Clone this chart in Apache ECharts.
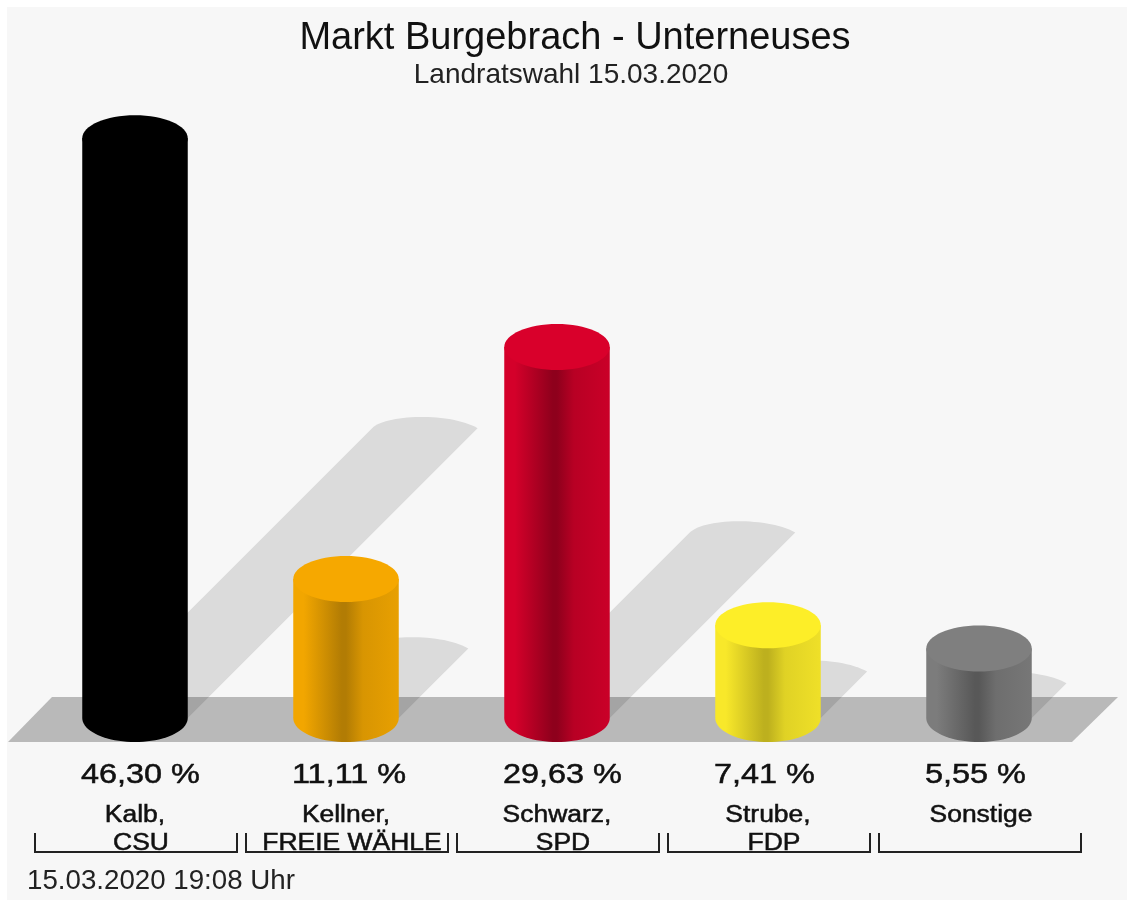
<!DOCTYPE html>
<html>
<head>
<meta charset="utf-8">
<title>Markt Burgebrach - Unterneuses</title>
<script src="https://cdn.jsdelivr.net/npm/echarts@6/dist/echarts.min.js"></script>
<style>
html, body { margin: 0; padding: 0; background: #fff; }
#chart { width: 1133px; height: 906px; }
</style>
</head>
<body>
<div id="chart"></div>
<script>
// values
var categories = ["Kalb,\nCSU", "Kellner,\nFREIE WÄHLE", "Schwarz,\nSPD", "Strube,\nFDP", "Sonstige"];
var shares = [46.30, 11.11, 29.63, 7.41, 5.55];

// cylinder colours: edge / dark stripe / cap
var edgeColors = ["#000000", "#f2a600", "#d4002a", "#f8e82a", "#7c7c7c"];
var darkColors = ["#000000", "#b27c04", "#8e001c", "#bdb01e", "#585858"];
var capColors = ["#000000", "#f6a800", "#d9002b", "#fdee28", "#7f7f7f"];

var RY = 23; // ellipse height of the cylinder cap
var SHADOW_K = 0.5; // shadow length compared to bar height

function arcPoints(cx, cy, rx, ry, from, to) {
  var pts = [];
  for (var i = 0; i <= 40; i++) {
    var a = from + (to - from) * i / 40;
    pts.push([cx + Math.cos(a) * rx, cy + Math.sin(a) * ry]);
  }
  return pts;
}

// rounded end of a shadow, leaves the left edge along the 45 degree slant and ends in a tip on the right
function shadowCap(lx, rx, y) {
  var pts = [];
  var c1 = [lx + 14, y - 14];
  var c2 = [rx - 28, y - 16];
  for (var i = 0; i <= 30; i++) {
    var t = i / 30;
    var u = 1 - t;
    pts.push([
      u * u * u * lx + 3 * u * u * t * c1[0] + 3 * u * t * t * c2[0] + t * t * t * rx,
      u * u * u * y + 3 * u * u * t * c1[1] + 3 * u * t * t * c2[1] + t * t * t * y
    ]);
  }
  return pts;
}

function renderFloor(params, api) {
  var y = api.coord([0, 0])[1];
  var g = params.coordSys;
  return {
    type: "polygon",
    shape: {
      points: [
        [g.x - 21.5, y + 24],
        [g.x + 22.5, y - 21],
        [g.x + g.width + 33.5, y - 21],
        [g.x + g.width - 12.5, y + 24]
      ]
    },
    style: { fill: "#b9b9b9" }
  };
}

function renderShadow(params, api) {
  var base = api.coord([api.value(0), 0]);
  var top = api.coord([api.value(0), api.value(1)]);
  var rx = api.size([1, 0])[0] * 0.25;
  var d = (base[1] - top[1]) * SHADOW_K;
  var pts = shadowCap(base[0] - rx + d, base[0] + rx + d, base[1] - d);
  pts.push([base[0] + rx, base[1]], [base[0] - rx, base[1]]);
  return {
    type: "polygon",
    shape: { points: pts },
    style: { fill: "rgba(0,0,0,0.115)" }
  };
}

function renderBar(params, api) {
  var i = api.value(0);
  var base = api.coord([i, 0]);
  var top = api.coord([i, api.value(1)]);
  var rx = api.size([1, 0])[0] * 0.25;
  var body = arcPoints(base[0], base[1], rx, RY + 1, 0, Math.PI);
  body.push([base[0] - rx, top[1]], [base[0] + rx, top[1]]);
  var edge = edgeColors[i];
  var dark = darkColors[i];
  return {
    type: "group",
    children: [
      {
        type: "polygon",
        shape: { points: body },
        style: {
          fill: new echarts.graphic.LinearGradient(0, 0, 1, 0, [
            { offset: 0, color: edge },
            { offset: 0.1, color: edge },
            { offset: 0.46, color: dark },
            { offset: 0.5, color: dark },
            { offset: 0.66, color: echarts.color.lerp(0.6, [dark, edge]) },
            { offset: 1, color: echarts.color.lerp(0.85, [dark, edge]) }
          ])
        }
      },
      {
        type: "ellipse",
        shape: { cx: top[0], cy: top[1], rx: rx, ry: RY },
        style: { fill: capColors[i] }
      }
    ]
  };
}

function nameText(text, x, y) {
  return {
    type: "text",
    x: x,
    y: y,
    scaleX: 1.15,
    style: {
      text: text,
      textAlign: "center",
      textVerticalAlign: "middle",
      font: "23px 'Liberation Sans'",
      fill: "#111",
      stroke: "#111",
      lineWidth: 0.5
    }
  };
}

function renderLabels(params, api) {
  var i = api.value(0);
  var x = api.coord([i, 0])[0];
  var half = 101;
  var lines = categories[i].split("\n");
  var children = [
    {
      type: "text",
      x: x - 54,
      y: 776,
      scaleX: 1.2,
      style: {
        text: api.value(1).toFixed(2).replace(".", ",") + " %",
        textAlign: "left",
        textVerticalAlign: "middle",
        font: "27px 'Liberation Sans'",
        fill: "#111",
        stroke: "#111",
        lineWidth: 0.5
      }
    },
    nameText(lines[0], x + (lines[1] ? 0 : 2), 816),
    {
      type: "polyline",
      shape: {
        points: [
          [x - half + 1, 833],
          [x - half + 1, 852],
          [x + half + 1, 852],
          [x + half + 1, 833]
        ]
      },
      style: { stroke: "#222", lineWidth: 2, fill: null }
    }
  ];
  if (lines[1]) {
    children.push(nameText(lines[1], x + 6, 844));
  }
  return { type: "group", children: children };
}

var barData = shares.map(function (v, i) {
  return [i, v];
});

var chart = echarts.init(document.getElementById("chart"));
chart.setOption({
  animation: false,
  backgroundColor: "#ffffff",
  title: [
    {
      text: "Markt Burgebrach - Unterneuses",
      left: 570,
      top: 15,
      textAlign: "center",
      textStyle: { fontFamily: "Liberation Sans", fontSize: 38, fontWeight: "normal", color: "#111" }
    },
    {
      text: "Landratswahl 15.03.2020",
      left: 566,
      top: 56,
      textAlign: "center",
      textStyle: { fontFamily: "Liberation Sans", fontSize: 28, fontWeight: "normal", color: "#222" }
    },
    {
      text: "15.03.2020 19:08 Uhr",
      left: 22,
      top: 862,
      textStyle: { fontFamily: "Liberation Sans", fontSize: 27.7, fontWeight: "normal", color: "#222" }
    }
  ],
  graphic: [
    {
      type: "rect",
      z: -10,
      silent: true,
      shape: { x: 7, y: 7, width: 1120, height: 893 },
      style: { fill: "#f7f7f7" }
    }
  ],
  grid: { left: 29.5, right: 48.5, top: 92, bottom: 188 },
  xAxis: { type: "category", data: categories, show: false },
  yAxis: { type: "value", min: 0, max: 50, show: false },
  tooltip: { show: false },
  series: [
    { type: "custom", z: 1, renderItem: renderFloor, data: [[0, 0]] },
    { type: "custom", z: 2, renderItem: renderShadow, data: barData },
    { type: "custom", z: 3, renderItem: renderBar, data: barData },
    { type: "custom", z: 4, renderItem: renderLabels, data: barData }
  ]
});
</script>
</body>
</html>
